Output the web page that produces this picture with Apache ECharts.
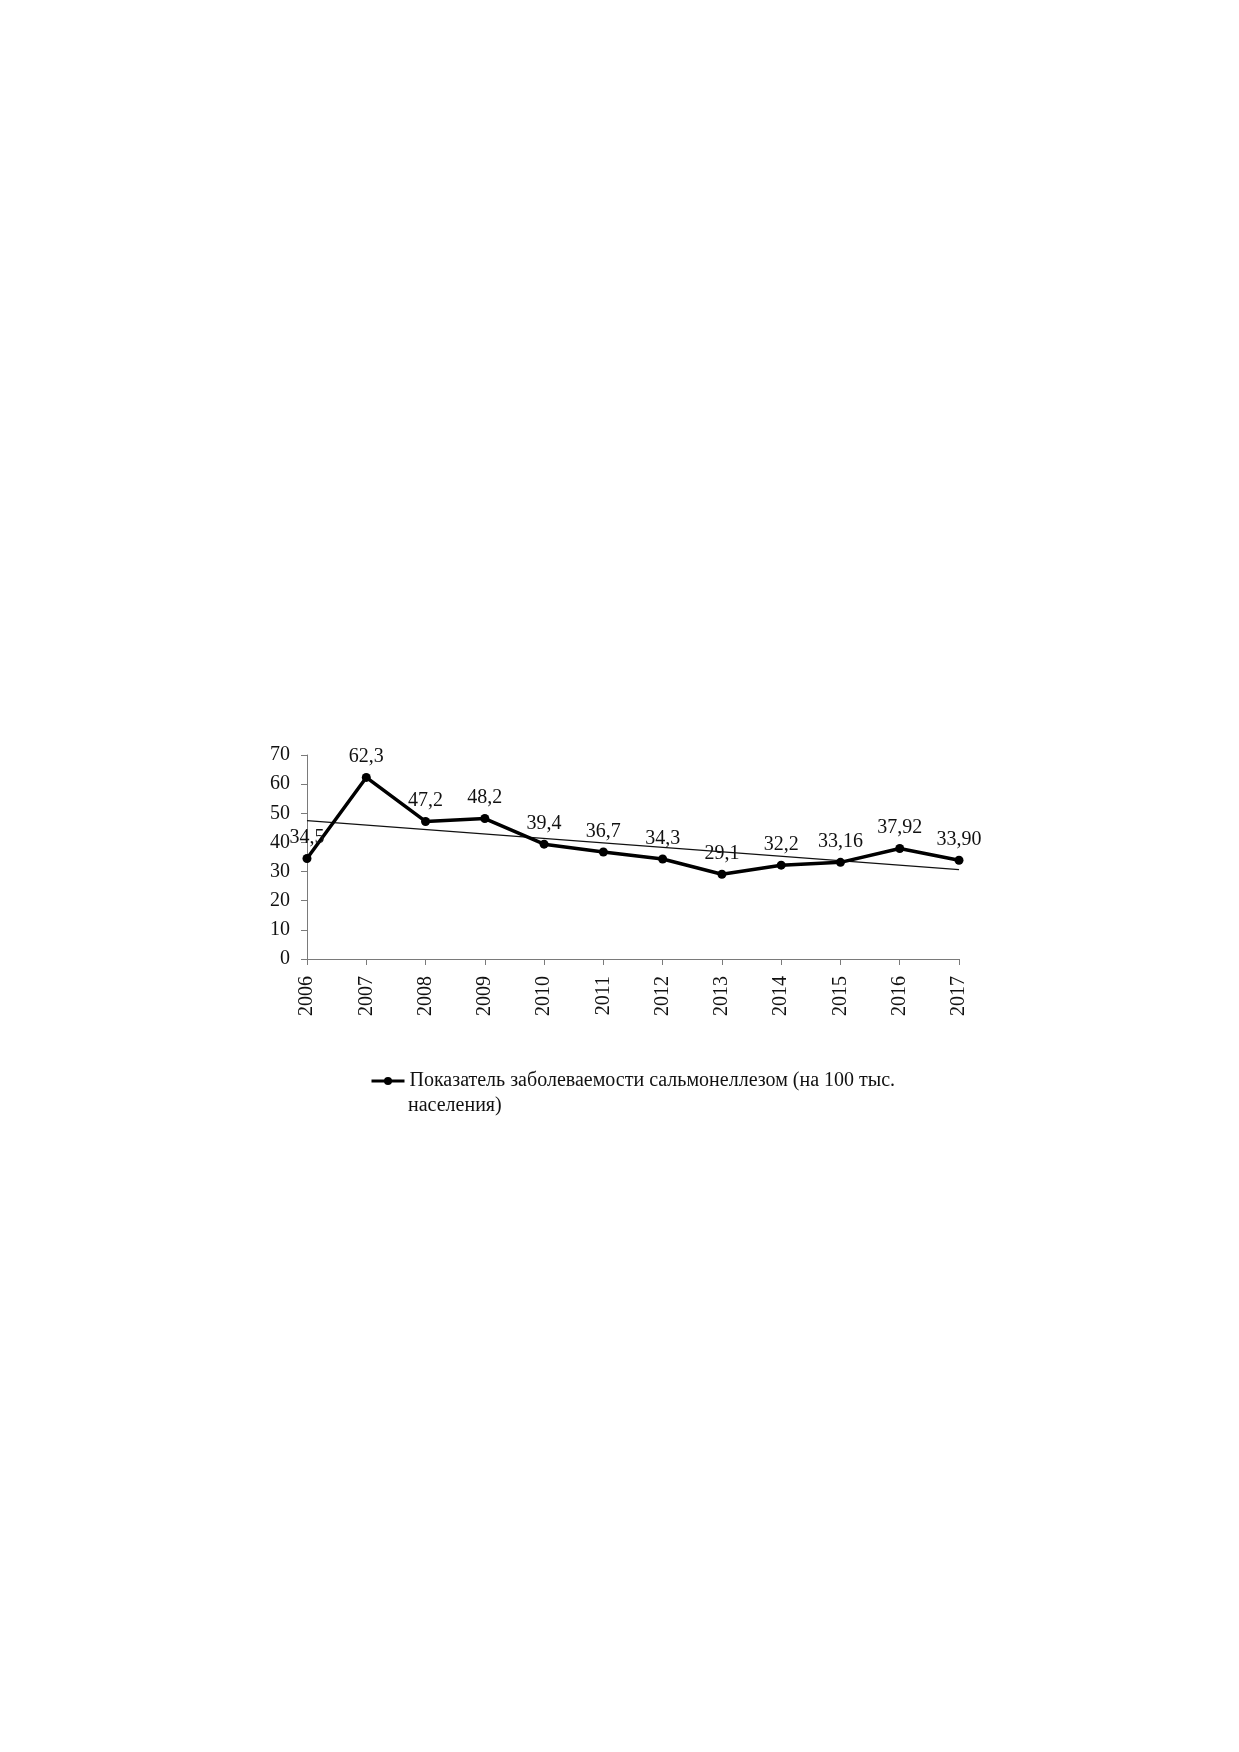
<!DOCTYPE html>
<html>
<head>
<meta charset="utf-8">
<script src="https://cdn.jsdelivr.net/npm/echarts@6/dist/echarts.min.js"></script>
<style>
  html, body { margin: 0; padding: 0; background: #fff; }
  #chart { width: 1239px; height: 1752px; }
</style>
</head>
<body>
<div id="chart"></div>
<script>
// данные графика
var years = ['2006', '2007', '2008', '2009', '2010', '2011', '2012', '2013', '2014', '2015', '2016', '2017'];
var rates = [34.5, 62.3, 47.2, 48.2, 39.4, 36.7, 34.3, 29.1, 32.2, 33.16, 37.92, 33.90];
var pointLabels = ['34,5', '62,3', '47,2', '48,2', '39,4', '36,7', '34,3', '29,1', '32,2', '33,16', '37,92', '33,90'];
var yTicks = [0, 70, 10]; // min, max, шаг
// линия тренда (концы)
var trendYears = ['2006', '2017'];
var trendValues = [47.5, 30.7];

var seriesName = 'Показатель заболеваемости сальмонеллезом (на 100 тыс. населения)';
var legendLine1 = 'Показатель заболеваемости сальмонеллезом (на 100 тыс.';
var legendLine2 = 'населения)';
var font = '"Liberation Serif", "Times New Roman", serif';
var fs = 20;

var chart = echarts.init(document.getElementById('chart'), null, { renderer: 'canvas' });

var option = {
  backgroundColor: '#fff',
  animation: false,
  textStyle: { fontFamily: font, color: '#111' },
  grid: {
    left: 307,
    right: 280,
    top: 755,
    bottom: 793,
    containLabel: false
  },
  legend: {
    data: [seriesName],
    left: 370,
    top: 1070,
    padding: 0,
    itemWidth: 33,
    itemHeight: 10,
    itemGap: 5,
    lineStyle: { width: 3 },
    formatter: function () { return legendLine1; },
    textStyle: {
      fontFamily: font,
      fontSize: fs,
      color: '#111',
      lineHeight: 22
    }
  },
  // вторая строка подписи легенды
  graphic: [
    {
      type: 'text',
      x: 408,
      y: 1106,
      silent: true,
      style: {
        text: legendLine2,
        fontFamily: font,
        fontSize: fs,
        fill: '#111',
        verticalAlign: 'middle'
      }
    }
  ],
  xAxis: {
    type: 'category',
    data: years,
    boundaryGap: false,
    axisLine: { show: true, lineStyle: { color: '#7a7a7a', width: 1 } },
    axisTick: { show: true, alignWithLabel: true, length: 6, lineStyle: { color: '#7a7a7a' } },
    axisLabel: {
      rotate: 90,
      margin: 17,
      fontFamily: font,
      fontSize: fs,
      color: '#111',
      interval: 0
    },
    splitLine: { show: false }
  },
  yAxis: {
    type: 'value',
    min: yTicks[0],
    max: yTicks[1],
    interval: yTicks[2],
    axisLine: { show: true, lineStyle: { color: '#7a7a7a', width: 1 } },
    axisTick: { show: true, length: 6, lineStyle: { color: '#7a7a7a' } },
    axisLabel: {
      margin: 17,
      fontFamily: font,
      fontSize: fs,
      color: '#111'
    },
    splitLine: { show: false }
  },
  series: [
    {
      name: 'Тренд',
      type: 'line',
      data: trendYears.map(function (y, i) { return [y, trendValues[i]]; }),
      symbol: 'none',
      lineStyle: { color: '#111', width: 1.2 },
      silent: true,
      z: 1
    },
    {
      name: seriesName,
      type: 'line',
      data: rates,
      symbol: 'circle',
      symbolSize: 9,
      itemStyle: { color: '#000' },
      lineStyle: { color: '#000', width: 3.5 },
      label: {
        show: true,
        position: 'top',
        distance: 6,
        fontFamily: font,
        fontSize: fs,
        color: '#111',
        formatter: function (p) { return pointLabels[p.dataIndex]; }
      },
      z: 2
    }
  ]
};

chart.setOption(option);
</script>
</body>
</html>
